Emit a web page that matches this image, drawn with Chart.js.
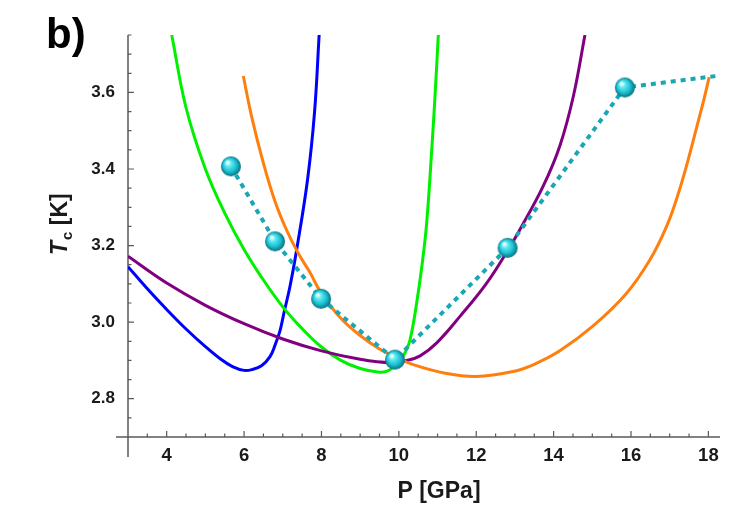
<!DOCTYPE html>
<html>
<head>
<meta charset="utf-8">
<script src="https://cdn.jsdelivr.net/npm/chart.js@4"></script>
<style>
  html, body { margin: 0; padding: 0; background: #fff; }
  #wrap { width: 755px; height: 516px; }
</style>
</head>
<body>
<div id="wrap"><canvas id="tcChart" width="755" height="516"></canvas></div>
<script>
// Tc(P) curves
const blueP = [3.0, 3.5, 4.0, 4.5, 5.0, 5.4, 5.7, 6.0, 6.2, 6.45, 6.67, 6.8, 6.93, 7.03, 7.19, 7.36, 7.64, 7.82, 7.94];
const blueT = [3.145, 3.087, 3.033, 2.982, 2.936, 2.903, 2.884, 2.874, 2.876, 2.886, 2.91, 2.94, 2.978, 3.024, 3.095, 3.19, 3.372, 3.547, 3.75];

const greenP = [4.13, 4.5, 5.0, 5.5, 6.0, 6.5, 7.0, 7.5, 8.0, 8.5, 9.0, 9.5, 9.7, 9.85, 10.03, 10.16, 10.29, 10.46, 10.6, 10.72, 10.85, 10.94, 11.02];
const greenT = [3.75, 3.56, 3.4, 3.285, 3.19, 3.11, 3.04, 2.983, 2.935, 2.9, 2.879, 2.869, 2.872, 2.882, 2.9, 2.92, 2.954, 3.05, 3.15, 3.26, 3.45, 3.6, 3.75];

const purpleP = [3.0, 4.0, 5.0, 6.0, 7.0, 8.0, 9.0, 9.8, 10.2, 10.55, 10.98, 11.58, 12.27, 12.83, 13.13, 13.73, 14.16, 14.51, 14.81];
const purpleT = [3.172, 3.102, 3.044, 2.996, 2.956, 2.925, 2.903, 2.894, 2.9, 2.912, 2.946, 3.015, 3.102, 3.19, 3.242, 3.355, 3.46, 3.59, 3.75];

const orangeP = [5.98, 6.2, 6.5, 6.8, 7.1, 7.4, 7.7, 8.0, 8.5, 9.0, 9.5, 9.9, 10.37, 11.23, 12.0, 12.95, 13.5, 14.16, 15.02, 15.88, 16.49, 16.92, 17.22, 17.48, 17.7, 17.88, 18.02];
const orangeT = [3.643, 3.535, 3.415, 3.315, 3.24, 3.18, 3.13, 3.075, 3.01, 2.965, 2.93, 2.91, 2.889, 2.866, 2.858, 2.871, 2.89, 2.925, 2.99, 3.075, 3.163, 3.25, 3.335, 3.425, 3.51, 3.58, 3.64];

// measured points (last one is only the end of the dotted line)
const dotP = [5.66, 6.8, 7.99, 9.9, 12.81, 15.84, 18.21];
const dotT = [3.407, 3.211, 3.061, 2.902, 3.194, 3.613, 3.643];

const xTicks = [4, 6, 8, 10, 12, 14, 16, 18];
const yTicks = [2.8, 3.0, 3.2, 3.4, 3.6];

function pts(xs, ys) {
    return xs.map((x, i) => ({ x: x, y: ys[i] }));
}

// shaded cyan sphere used as point style
function makeSphere(r) {
    const c = document.createElement('canvas');
    c.width = c.height = r * 2 + 2;
    const g = c.getContext('2d');
    const cx = r + 1, cy = r + 1;
    const grad = g.createRadialGradient(cx - r * 0.35, cy - r * 0.4, r * 0.1, cx, cy, r);
    grad.addColorStop(0, '#e8ffff');
    grad.addColorStop(0.25, '#5ee8f2');
    grad.addColorStop(0.65, '#19bfd0');
    grad.addColorStop(1, '#0b6c7c');
    g.fillStyle = grad;
    g.beginPath();
    g.arc(cx, cy, r, 0, Math.PI * 2);
    g.fill();
    return c;
}
const sphere = makeSphere(10);

function curve(label, xs, ys, color, order) {
    return {
        label: label,
        data: pts(xs, ys),
        borderColor: color,
        backgroundColor: color,
        borderWidth: 3,
        pointRadius: 0,
        tension: 0.4,
        order: order
    };
}

// Mathematica-like axes with inner ticks, titles and panel label
const axesPlugin = {
    id: 'mmaAxes',
    beforeDatasetsDraw(chart) {
        const { ctx, chartArea: a, scales: { x, y } } = chart;
        ctx.save();
        ctx.strokeStyle = '#5a5a5a';
        ctx.lineWidth = 1.5;
        ctx.beginPath();
        ctx.moveTo(a.left - 12, a.bottom);
        ctx.lineTo(a.right, a.bottom);
        ctx.moveTo(a.left, a.top);
        ctx.lineTo(a.left, a.bottom + 20);
        ctx.stroke();
        ctx.lineWidth = 1.2;
        ctx.beginPath();
        for (let v = 3.5; v <= x.max + 1e-9; v += 0.5) {
            const px = x.getPixelForValue(v);
            const len = Math.abs(v / 2 - Math.round(v / 2)) < 1e-6 ? 6 : 3.5;
            ctx.moveTo(px, a.bottom);
            ctx.lineTo(px, a.bottom - len);
        }
        for (let i = 1; 2.7 + i * 0.05 <= y.max + 1e-9; i++) {
            const v = 2.7 + i * 0.05;
            const py = y.getPixelForValue(v);
            const major = i % 4 === 2;
            ctx.moveTo(a.left, py);
            ctx.lineTo(a.left + (major ? 6 : 3.5), py);
        }
        ctx.stroke();
        ctx.restore();
    },
    afterDraw(chart) {
        const { ctx, chartArea: a } = chart;
        ctx.save();
        ctx.fillStyle = '#1a1a1a';
        ctx.textAlign = 'center';
        ctx.textBaseline = 'alphabetic';
        ctx.font = 'bold 23px "Liberation Sans", Arial, sans-serif';
        ctx.fillText('P [GPa]', (a.left + a.right) / 2 + 15, 498);

        ctx.textAlign = 'left';
        ctx.font = 'bold 42px "Liberation Sans", Arial, sans-serif';
        ctx.fillStyle = '#000';
        ctx.fillText('b)', 46, 48);

        // rotated y title: T_c [K]
        ctx.fillStyle = '#1a1a1a';
        ctx.translate(67, 255);
        ctx.rotate(-Math.PI / 2);
        ctx.font = 'italic bold 23px "Liberation Sans", Arial, sans-serif';
        ctx.fillText('T', 0, 0);
        let w = ctx.measureText('T').width;
        ctx.font = 'bold 15px "Liberation Sans", Arial, sans-serif';
        ctx.fillText('c', w + 1, 5);
        w += 1 + ctx.measureText('c').width;
        ctx.font = 'bold 23px "Liberation Sans", Arial, sans-serif';
        ctx.fillText(' [K]', w, 0);
        ctx.restore();
    }
};

const ctx = document.getElementById('tcChart').getContext('2d');
new Chart(ctx, {
    type: 'line',
    data: {
        datasets: [
            {
                label: 'measured',
                data: pts(dotP, dotT),
                borderColor: '#1aa7b4',
                borderWidth: 4,
                borderDash: [5, 5],
                pointStyle: sphere,
                pointRadius: dotP.map((p, i) => i === dotP.length - 1 ? 0 : 10),
                tension: 0,
                order: 0
            },
            curve('orange', orangeP, orangeT, '#ff7f0e', 1),
            curve('purple', purpleP, purpleT, '#800080', 2),
            curve('green', greenP, greenT, '#00f000', 3),
            curve('blue', blueP, blueT, '#0000ff', 4)
        ]
    },
    options: {
        responsive: false,
        animation: false,
        layout: { padding: { top: 35, right: 35, left: 0, bottom: 0 } },
        plugins: {
            legend: { display: false },
            tooltip: { enabled: false }
        },
        scales: {
            x: {
                type: 'linear',
                min: 3,
                max: 18.3,
                afterFit: s => { s.height = 79; },
                afterBuildTicks: s => { s.ticks = xTicks.map(v => ({ value: v })); },
                grid: { display: false, drawTicks: false },
                border: { display: false },
                ticks: {
                    padding: 8,
                    color: '#1a1a1a',
                    font: { family: '"Liberation Sans", Arial, sans-serif', size: 18.5, weight: 'bold' },
                    callback: v => String(v)
                }
            },
            y: {
                type: 'linear',
                min: 2.7,
                max: 3.75,
                afterFit: s => { s.width = 128; },
                afterBuildTicks: s => { s.ticks = yTicks.map(v => ({ value: v })); },
                grid: { display: false, drawTicks: false },
                border: { display: false },
                ticks: {
                    padding: 13,
                    color: '#1a1a1a',
                    font: { family: '"Liberation Sans", Arial, sans-serif', size: 17, weight: 'bold' },
                    callback: v => v.toFixed(1)
                }
            }
        }
    },
    plugins: [axesPlugin]
});
</script>
</body>
</html>
